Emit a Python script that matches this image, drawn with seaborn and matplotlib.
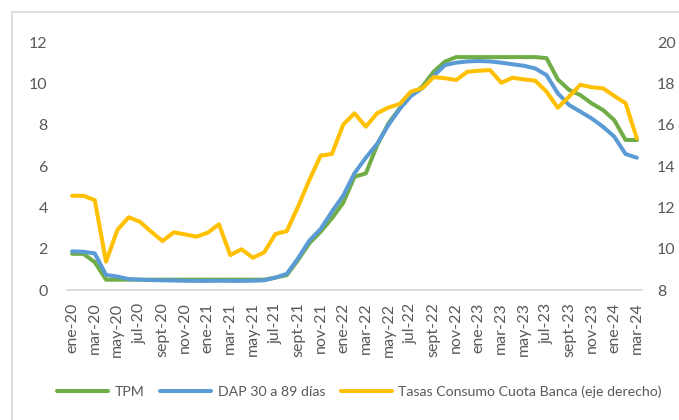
import matplotlib
matplotlib.use("Agg")
import matplotlib.pyplot as plt
import seaborn as sns
import pandas as pd
from matplotlib.lines import Line2D
from matplotlib.patches import Rectangle

# ---------------- data ----------------
month_names = ["ene", "feb", "mar", "abr", "may", "jun", "jul", "ago", "sept", "oct", "nov", "dic"]
years = ["20", "21", "22", "23", "24"]
month_labels = [f"{m}-{y}" for y in years for m in month_names][:51]  # ene-20 .. mar-24

tpm = [1.75, 1.75, 1.35,
       0.5, 0.5, 0.5, 0.5, 0.5, 0.5, 0.5, 0.5, 0.5, 0.5, 0.5, 0.5, 0.5, 0.5, 0.5,
       0.6, 0.72, 1.45, 2.26, 2.82, 3.47, 4.22, 5.48, 5.64, 7.0, 8.06, 8.79, 9.43, 9.84,
       10.56, 11.05, 11.27,
       11.27, 11.27, 11.27, 11.27, 11.27, 11.27, 11.27,
       11.22, 10.19, 9.68, 9.43, 9.03, 8.71, 8.22, 7.26, 7.26]

dap = [1.87, 1.85, 1.77, 0.73, 0.65, 0.53, 0.50, 0.48, 0.47, 0.46, 0.45, 0.44, 0.44,
       0.45, 0.44, 0.44, 0.45, 0.47, 0.60, 0.78, 1.53, 2.39, 2.95, 3.79, 4.57, 5.65,
       6.40, 7.07, 7.98, 8.76, 9.39, 9.76, 10.35, 10.88, 11.00, 11.06, 11.08, 11.06,
       11.00, 10.92, 10.85, 10.72, 10.40, 9.52, 8.95, 8.63, 8.30, 7.90, 7.42, 6.58, 6.40]

tasas = [12.56, 12.56, 12.35, 9.37, 10.9, 11.52, 11.3, 10.82, 10.37, 10.79, 10.69,
         10.58, 10.77, 11.18, 9.69, 9.97, 9.56, 9.82, 10.71, 10.85, 12.03, 13.32, 14.5,
         14.58, 16.0, 16.55, 15.9, 16.55, 16.83, 17.0, 17.6, 17.76, 18.3, 18.25, 18.16,
         18.56, 18.61, 18.64, 18.03, 18.27, 18.19, 18.13, 17.6, 16.82, 17.36, 17.93,
         17.81, 17.76, 17.39, 17.04, 15.34]

series_names = ["TPM", "DAP 30 a 89 días", "Tasas Consumo Cuota Banca (eje derecho)"]
colors = ["#70AD47", "#5B9BD5", "#FFC000"]

df = pd.DataFrame({"idx": range(len(month_labels)), "TPM": tpm, "DAP": dap, "Tasas": tasas})

# ---------------- style ----------------
sns.set_theme(style="white")
plt.rcParams["font.family"] = ["Lato", "DejaVu Sans"]
FS = 11.5
LEG_FS = 10.2
TXT = "#595959"
GRID = "#D9D9D9"
LW = 2.9

W, H = 679, 420
fig = plt.figure(figsize=(W / 100, H / 100), dpi=100)
ax = fig.add_axes([66.5 / W, 1 - 290 / H, 576 / W, 248 / H])

line_kw = dict(solid_joinstyle="round", solid_capstyle="round")
sns.lineplot(data=df, x="idx", y="TPM", ax=ax, color=colors[0], lw=LW, sort=False, **line_kw)
sns.lineplot(data=df, x="idx", y="DAP", ax=ax, color=colors[1], lw=LW, sort=False, **line_kw)

ax2 = ax.twinx()
sns.lineplot(data=df, x="idx", y="Tasas", ax=ax2, color=colors[2], lw=LW, sort=False, **line_kw)

ax.set_xlim(-0.5, len(month_labels) - 0.5)
ax.set_ylim(0, 12)
ax.set_yticks(range(0, 13, 2))
ax2.set_ylim(8, 20)
ax2.set_yticks(range(8, 21, 2))

ax.set_xticks(range(0, len(month_labels), 2))
ax.set_xticklabels(month_labels[::2], rotation=90, va="top", ha="center")

for a in (ax, ax2):
    a.set_xlabel("")
    a.set_ylabel("")
    for s in a.spines.values():
        s.set_visible(False)
    a.grid(False)

ax.spines["bottom"].set_visible(True)
ax.spines["bottom"].set_color(GRID)
ax.spines["bottom"].set_linewidth(1.3)

ax.tick_params(axis="y", length=0, pad=13.5, labelsize=FS, labelcolor=TXT)
ax.tick_params(axis="x", length=0, pad=9, labelsize=FS, labelcolor=TXT)
ax2.tick_params(axis="y", length=0, pad=10.5, labelsize=FS, labelcolor=TXT)

# legend
handles = [Line2D([0], [0], color=c, lw=LW, solid_capstyle="round") for c in colors]
fig.legend(handles, series_names, loc="center", bbox_to_anchor=(359.5 / W, 1 - 392 / H),
           ncol=3, frameon=False, handlelength=3.6, handletextpad=0.45,
           columnspacing=1.1, fontsize=LEG_FS, labelcolor=TXT)

# chart frame (extends beyond the crop at right/bottom)
fig.add_artist(Rectangle((12 / W, -0.5), 2.0, 1.5 - 12 / H, transform=fig.transFigure,
                         fill=False, ec=GRID, lw=1.2))

fig.savefig("out.png", dpi=100)
